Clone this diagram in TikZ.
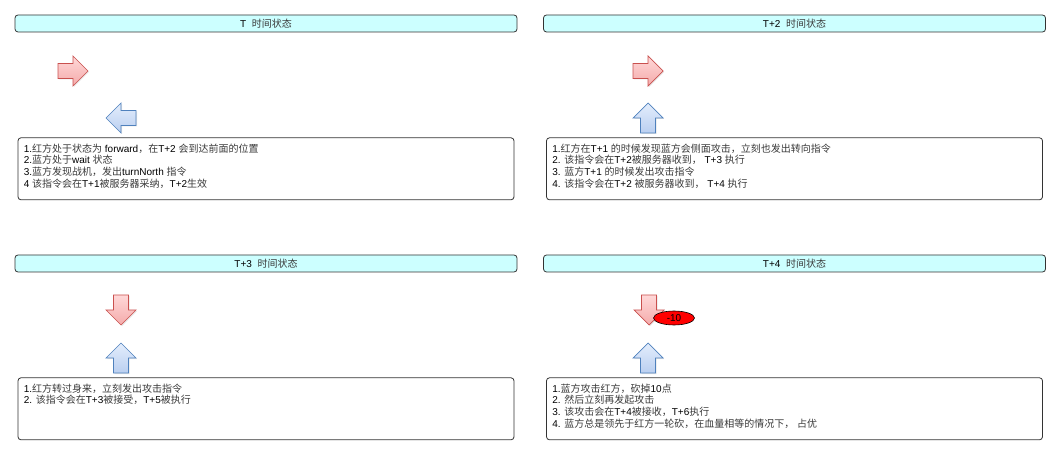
\documentclass[tikz,border=0pt]{standalone}
\usepackage{fontspec}
\setmainfont{Liberation Sans}
\newfontfamily\cjk{Noto Sans CJK SC}
\usetikzlibrary{positioning,shapes.geometric,shadows}
\definecolor{cyanpale}{HTML}{CCFFFF}
\definecolor{bord}{HTML}{333333}
\definecolor{zhgris}{HTML}{3A3A3A}
\definecolor{rougeclair}{HTML}{FFD8D8}
\definecolor{rougefonce}{HTML}{F4ABAB}
\definecolor{rougebord}{HTML}{C9504E}
\definecolor{bleuclair}{HTML}{E3EDFC}
\definecolor{bleufonce}{HTML}{BACFF0}
\definecolor{bleubord}{HTML}{4F81BD}
\newcommand{\zh}[1]{{\cjk\color{zhgris}#1}}
% grosse fleche : centre, angle, style
\newcommand{\fleche}[3]{%
  \begin{scope}[shift={#1},rotate=#2]
    \draw[#3] (-15,-7.5) -- (0,-7.5) -- (0,-15) -- (15,0) -- (0,15) -- (0,7.5) -- (-15,7.5) -- cycle;
  \end{scope}}
\tikzset{
    entete/.style={draw=bord, fill=cyanpale, rounded corners=3pt, line width=0.8pt,
      minimum width=502pt, minimum height=17pt, inner sep=0pt, font=\fontsize{10}{12}\selectfont},
    cadre/.style={draw=bord, fill=white, rounded corners=3pt, line width=0.8pt,
      minimum width=496pt, minimum height=62pt, inner sep=0pt},
    notes/.style={anchor=north west, inner sep=0pt, align=left, font=\fontsize{10}{11.7}\selectfont},
    rouge/.style={draw=rougebord, top color=rougeclair, bottom color=rougefonce, line width=0.7pt,
      drop shadow={shadow xshift=1pt, shadow yshift=-1pt, opacity=0.2}},
    bleu/.style={draw=bleubord, top color=bleuclair, bottom color=bleufonce, line width=0.7pt,
      drop shadow={shadow xshift=1pt, shadow yshift=-1pt, opacity=0.2}},
    degat/.style={ellipse, draw=black, fill=red, line width=0.6pt, minimum width=41pt,
      minimum height=14pt, inner sep=0pt, font=\fontsize{10}{12}\selectfont},
  }
\begin{document}
\begin{tikzpicture}[x=1pt,y=-1pt]
  \useasboundingbox (0,0) rectangle (1060,454);

  %T
  \node[entete] (h1) at (266,23.5) {T~~\zh{时间状态}};
  \node[cadre, below=105pt of h1] (c1) {};
  \node[notes] (n1) at ([shift={(6,6)}]c1.north west) {1.\zh{红方处于状态为} forward\zh{，在}T+2 \zh{会到达前面的位置}\\
    2.\zh{蓝方处于}wait \zh{状态}\\
    3.\zh{蓝方发现战机，发出}turnNorth \zh{指令}\\
    4 \zh{该指令会在}T+1\zh{被服务器采纳，}T+2\zh{生效}};
  \fleche{(73,71)}{0}{rouge}
  \fleche{(121,118)}{180}{bleu}

  %T+2
  \node[entete] (h2) at (794.5,23.5) {T+2~~\zh{时间状态}};
  \node[cadre, below=105pt of h2] (c2) {};
  \node[notes] (n2) at ([shift={(6,6)}]c2.north west) {1.\zh{红方在}T+1 \zh{的时候发现蓝方会侧面攻击，立刻也发出转向指令}\\
    2. \zh{该指令会在}T+2\zh{被服务器收到，} T+3 \zh{执行}\\
    3. \zh{蓝方}T+1 \zh{的时候发出攻击指令}\\
    4. \zh{该指令会在}T+2 \zh{被服务器收到，} T+4 \zh{执行}};
  \fleche{(648,71)}{0}{rouge}
  \fleche{(648,118)}{90}{bleu}

  %T+3
  \node[entete] (h3) at (266,263.5) {T+3~~\zh{时间状态}};
  \node[cadre, below=105pt of h3] (c3) {};
  \node[notes] (n3) at ([shift={(6,6)}]c3.north west) {1.\zh{红方转过身来，立刻发出攻击指令}\\
    2. \zh{该指令会在}T+3\zh{被接受，}T+5\zh{被执行}};
  \fleche{(121,310)}{-90}{rouge}
  \fleche{(121,358)}{90}{bleu}

  %T+4
  \node[entete] (h4) at (794.5,263.5) {T+4~~\zh{时间状态}};
  \node[cadre, below=105pt of h4] (c4) {};
  \node[notes] (n4) at ([shift={(6,6)}]c4.north west) {1.\zh{蓝方攻击红方，砍掉}10\zh{点}\\
    2. \zh{然后立刻再发起攻击}\\
    3. \zh{该攻击会在}T+4\zh{被接收，}T+6\zh{执行}\\
    4. \zh{蓝方总是领先于红方一轮砍，在血量相等的情况下，} \zh{占优}};
  \fleche{(649,310)}{-90}{rouge}
  \fleche{(648,358)}{90}{bleu}
  \node[degat] (moins10) at (674,318) {-10};
\end{tikzpicture}
\end{document}
